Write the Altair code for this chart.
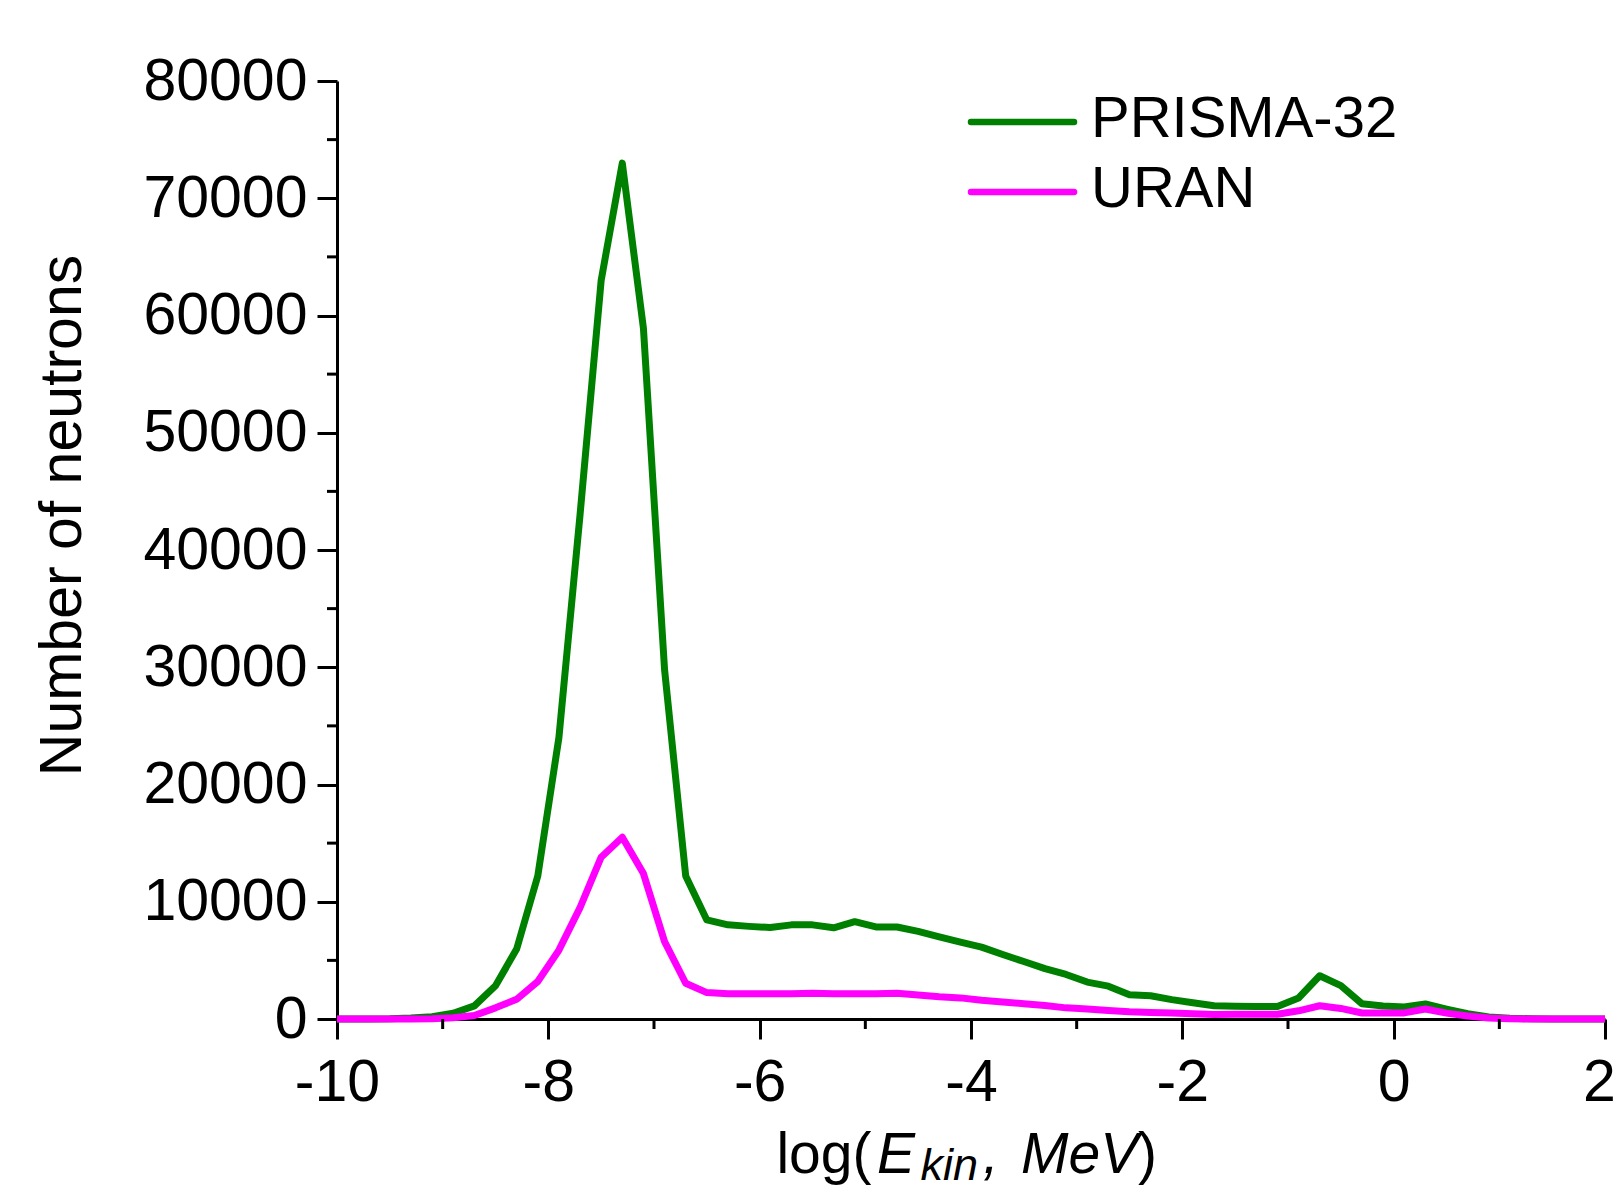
import altair as alt
import pandas as pd

# ---------------- data ----------------
series_names = ["PRISMA-32", "URAN"]
series_colors = ["#008000", "#FF00FF"]

energy = [-10.0, -9.9, -9.7, -9.5, -9.3, -9.1, -8.9, -8.7, -8.5, -8.3, -8.1,
          -7.9, -7.7, -7.5, -7.3, -7.1, -6.9, -6.7, -6.5, -6.3, -6.1,
          -5.9, -5.7, -5.5, -5.3, -5.1, -4.9, -4.7, -4.5, -4.3, -4.1,
          -3.9, -3.7, -3.5, -3.3, -3.1, -2.9, -2.7, -2.5, -2.3, -2.1,
          -1.9, -1.7, -1.5, -1.3, -1.1, -0.9, -0.7, -0.5, -0.3, -0.1,
          0.1, 0.3, 0.5, 0.7, 0.9, 1.1, 1.3, 1.5, 1.7, 1.9, 2.0]

prisma = [0, 0, 0, 20, 80, 200, 490, 1120, 2830, 5960, 12200,
          24000, 43000, 63000, 73000, 58900, 29800, 12200, 8450, 8030, 7900,
          7800, 8030, 8030, 7780, 8300, 7850, 7850, 7470, 7000, 6550,
          6130, 5500, 4900, 4300, 3800, 3150, 2800, 2070, 1980, 1650,
          1380, 1130, 1090, 1070, 1070, 1790, 3690, 2840, 1300, 1100,
          1020, 1280, 850, 450, 180, 60, 20, 0, 0, 0, 0]

uran = [0, 0, 0, 0, 0, 20, 100, 300, 950, 1680, 3200,
        5870, 9500, 13800, 15500, 12400, 6600, 3050, 2250, 2150, 2150,
        2150, 2150, 2200, 2150, 2150, 2150, 2200, 2050, 1900, 1800,
        1600, 1450, 1300, 1150, 950, 850, 730, 620, 560, 510,
        450, 380, 400, 400, 400, 700, 1130, 900, 510, 510,
        520, 850, 500, 250, 80, 30, 0, 0, 0, 0, 0]

x_major = [-10, -8, -6, -4, -2, 0, 2]
x_minor = [-9, -7, -5, -3, -1, 1]
y_major = [0, 10000, 20000, 30000, 40000, 50000, 60000, 70000, 80000]
y_minor = [5000, 15000, 25000, 35000, 45000, 55000, 65000, 75000]

y_title = "Number of neutrons"

df = pd.DataFrame({
    "energy": energy * 2,
    "count": prisma + uran,
    "series": [series_names[0]] * len(energy) + [series_names[1]] * len(energy),
})

FONT = "Liberation Sans"
FS = 59
W, H = 1268, 938

xs = alt.Scale(domain=[-10, 2], nice=False, zero=False)
ys = alt.Scale(domain=[0, 80000], nice=False)
cs = alt.Scale(domain=series_names, range=series_colors)

x_axis = alt.Axis(values=x_major, title=None, labelExpr="'' + datum.value",
                  tickSize=20, labelPadding=14, labelFontSize=FS, labelFont=FONT,
                  labelColor="black", domainColor="black", tickColor="black",
                  domainWidth=3, tickWidth=3, grid=False, labelFlush=False,
                  labelOverlap=False,
                  labelOffset=alt.ExprRef("datum.value == 2 ? -6 : 0"))

lines = alt.Chart(df).mark_line(strokeWidth=7, strokeJoin="round").encode(
    x=alt.X("energy:Q", scale=xs, axis=x_axis),
    y=alt.Y("count:Q", scale=ys,
            axis=alt.Axis(values=y_major, format="d", title=y_title,
                          tickSize=20, labelPadding=10, labelFontSize=FS, labelFont=FONT,
                          labelColor="black", domainColor="black", tickColor="black",
                          domainWidth=3, tickWidth=3, grid=False, labelFlush=False,
                          labelOverlap=False,
                          titleFont=FONT, titleFontSize=59, titleFontWeight="normal",
                          titleColor="black", titleAngle=270, titleAlign="center",
                          titleBaseline="middle", titleX=-275, titleY=434)),
    color=alt.Color("series:N", scale=cs, legend=None),
)

ymin = alt.Chart(pd.DataFrame({"v": y_minor})).mark_rule(strokeWidth=3, color="black").encode(
    y=alt.Y("v:Q", scale=ys, axis=None),
    x=alt.value(-10), x2=alt.value(0),
)
xmin = alt.Chart(pd.DataFrame({"energy": x_minor})).mark_rule(strokeWidth=3, color="black").encode(
    x=alt.X("energy:Q", scale=xs, axis=x_axis),
    y=alt.value(H), y2=alt.value(H + 10),
)

# legend drawn with the same colour scale
leg_df = pd.DataFrame({"series": series_names})
leg_y = alt.Y("series:N", axis=None,
              scale=alt.Scale(type="point", domain=series_names, range=[41, 111], padding=0))
leg_rules = alt.Chart(leg_df).mark_rule(strokeWidth=6.5, strokeCap="round").encode(
    x=alt.value(634), x2=alt.value(737), y=leg_y,
    color=alt.Color("series:N", scale=cs, legend=None),
)
leg_text = alt.Chart(leg_df).mark_text(align="left", baseline="middle", fontSize=58,
                                       font=FONT, color="black", dy=-2).encode(
    x=alt.value(754), y=leg_y, text="series:N",
)

# x-axis title with italic / subscript parts
def piece(txt, x, y, size=57, style="normal"):
    return alt.Chart(pd.DataFrame({"t": [txt]})).mark_text(
        align="left", baseline="alphabetic", fontSize=size, font=FONT,
        fontStyle=style, color="black").encode(
        x=alt.value(x), y=alt.value(y), text="t:N")

TB = 1092
title_layers = [
    piece("log(", 439.4, TB),
    piece("E", 540, TB, style="italic"),
    piece("kin", 583.4, TB + 7, size=45, style="italic"),
    piece(",", 646, TB, style="italic"),
    piece("MeV", 684, TB, style="italic"),
    piece(")", 801, TB),
]

chart = alt.layer(lines, ymin, xmin, leg_rules, leg_text, *title_layers).resolve_scale(
    y="independent"
).properties(
    width=W, height=H,
    autosize=alt.AutoSizeParams(type="none"),
    padding={"left": 329, "top": 73, "right": 11, "bottom": 170},
    background="white",
).configure_view(stroke=None)

chart.save("out.html", embed_options={"renderer": "svg", "actions": False})
